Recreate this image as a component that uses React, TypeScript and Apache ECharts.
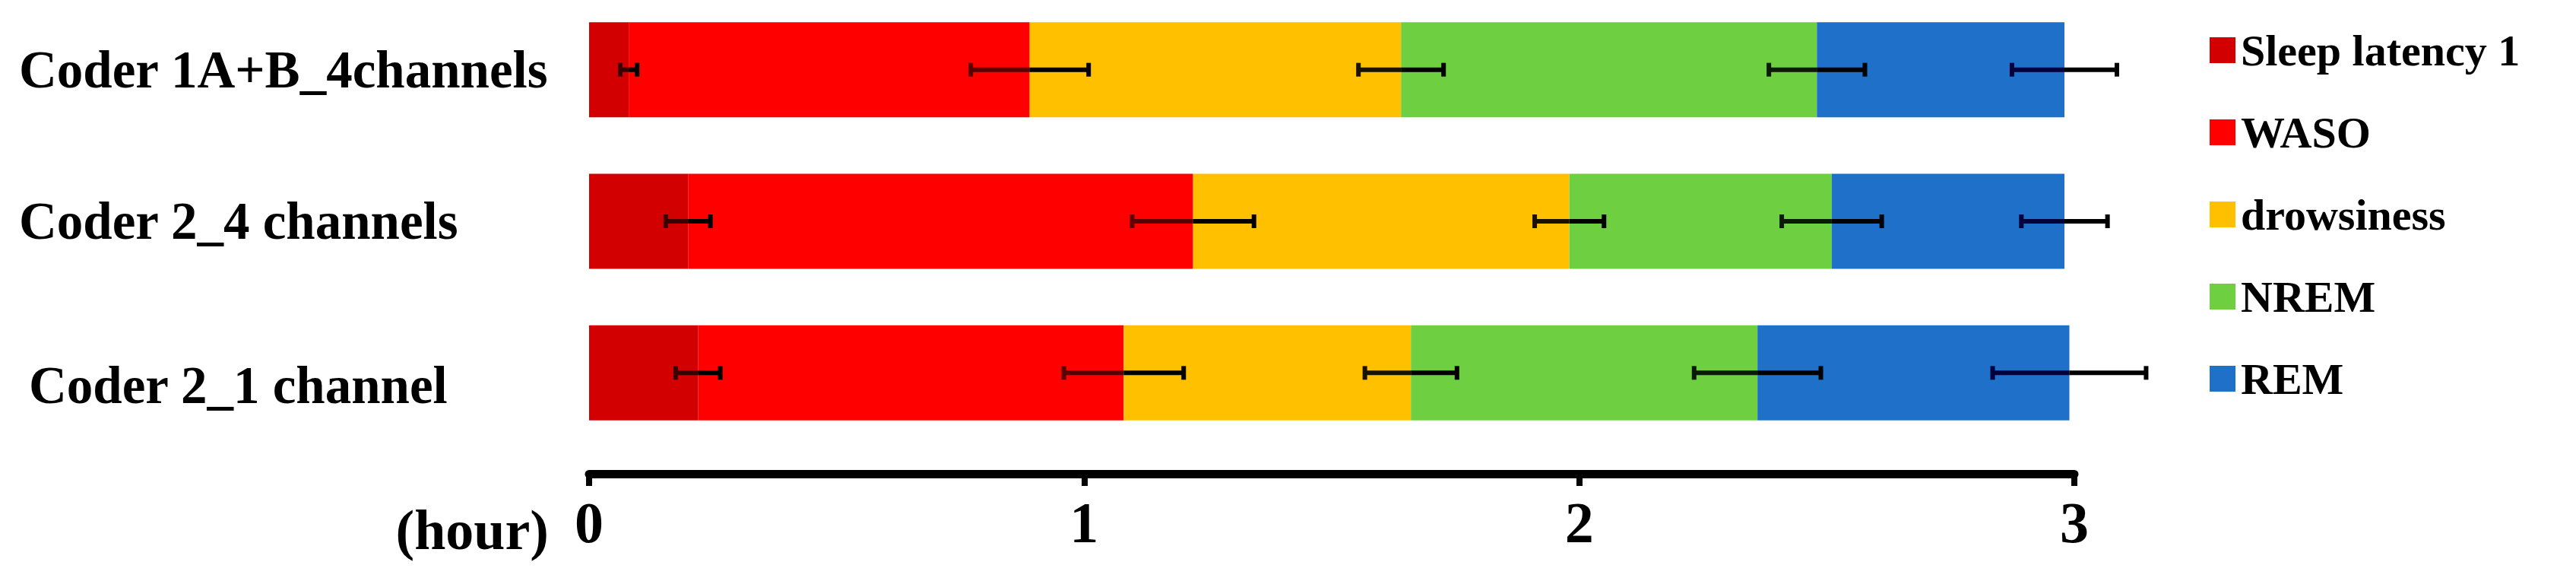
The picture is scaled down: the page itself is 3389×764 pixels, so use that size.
import React, { useEffect, useRef } from "react";
import * as echarts from "echarts";

const categories = ["Coder 1A+B_4channels", "Coder 2_4 channels", "Coder 2_1 channel"];
const stageNames = ["Sleep latency 1", "WASO", "drowsiness", "NREM", "REM"];
const stageColors = ["#d20000", "#ff0000", "#ffc000", "#6ed040", "#1e70c8"];
const errTints = ["#3a0000", "#5a0000", "#1a1200", "#0a1a05", "#00003c"];

// hours per stage, one value per category (top to bottom)
const sleepLatency = [0.08, 0.2, 0.22];
const waso = [0.81, 1.02, 0.86];
const drowsiness = [0.75, 0.76, 0.58];
const nrem = [0.84, 0.53, 0.7];
const rem = [0.5, 0.47, 0.63];

// error (SD, hours) per stage
const sleepLatencyErr = [0.017, 0.045, 0.045];
const wasoErr = [0.119, 0.123, 0.121];
const drowsinessErr = [0.086, 0.07, 0.093];
const nremErr = [0.097, 0.101, 0.128];
const remErr = [0.106, 0.087, 0.155];

const xTicks = [0, 1, 2, 3];

export default function App() {
  const ref = useRef<HTMLDivElement>(null);
  useEffect(() => {
    if (!ref.current) return;
    const chart = echarts.init(ref.current, null, { renderer: "svg" });
    const values = [sleepLatency, waso, drowsiness, nrem, rem];
    const errs = [sleepLatencyErr, wasoErr, drowsinessErr, nremErr, remErr];
    const errData: number[][] = [];
    categories.forEach((_, ci) => {
      let cum = 0;
      values.forEach((arr, si) => {
        cum += arr[ci];
        errData.push([ci, cum, errs[si][ci], si]);
      });
    });
    const font = "'Liberation Serif', 'Times New Roman', serif";
    const tokenBase = { fontFamily: font, fontWeight: "bold", fontSize: 69, color: "#000" };
    const barSeries = values.map((arr, si) => ({
      name: stageNames[si],
      type: "bar",
      stack: "total",
      barWidth: 125,
      data: arr,
      itemStyle: { color: stageColors[si] },
      z: 2,
    }));
    chart.setOption({
      animation: false,
      backgroundColor: "#ffffff",
      color: stageColors,
      grid: { left: 775, right: 660, top: -8, height: 598, outerBoundsMode: "none", containLabel: false },
      legend: {
        orient: "vertical",
        left: 2902,
        top: 32,
        itemWidth: 34,
        itemHeight: 34,
        itemGap: 50,
        icon: "rect",
        data: stageNames,
        textStyle: {
          fontFamily: font,
          fontWeight: "bold",
          fontSize: 58,
          color: "#000",
          lineHeight: 34,
          padding: [0, 0, 0, 2],
        },
      },
      xAxis: {
        type: "value",
        min: xTicks[0],
        max: xTicks[xTicks.length - 1],
        interval: 1,
        offset: 33,
        splitLine: { show: false },
        axisLine: { show: true, lineStyle: { color: "#000", width: 11 } },
        axisTick: { show: true, length: 16, lineStyle: { color: "#000", width: 8 } },
        axisLabel: {
          margin: 26,
          fontFamily: font,
          fontWeight: "bold",
          fontSize: 76,
          color: "#000",
        },
      },
      yAxis: {
        type: "category",
        inverse: true,
        data: categories,
        axisLine: { show: false },
        axisTick: { show: false },
        axisLabel: {
          align: "left",
          margin: 750,
          fontFamily: font,
          fontWeight: "bold",
          fontSize: 69,
          color: "#000",
          formatter: (v: string, i: number) => (i === 2 ? `{c|${v}}` : `{a|${v}}`),
          rich: {
            a: { ...tokenBase },
            c: { ...tokenBase, lineHeight: 103, verticalAlign: "bottom", padding: [0, 0, 0, 13] },
          },
        },
      },
      graphic: [
        {
          type: "text",
          right: 3389 - 722,
          top: 660,
          style: {
            text: "(hour)",
            font: `bold 74px ${font}`,
            fill: "#000",
          },
        },
      ],
      series: [
        ...barSeries,
        {
          type: "custom",
          name: "err",
          data: errData,
          encode: { x: 1, y: 0 },
          z: 5,
          renderItem: (params: any, api: any) => {
            const cat = api.value(0);
            const c = api.value(1);
            const sd = api.value(2);
            const si = api.value(3);
            const lo = api.coord([c - sd, cat]);
            const mid = api.coord([c, cat]);
            const hi = api.coord([c + sd, cat]);
            const y = mid[1];
            const cap = 9;
            const tint = errTints[si];
            return {
              type: "group",
              children: [
                { type: "line", shape: { x1: lo[0], y1: y, x2: mid[0], y2: y }, style: { stroke: tint, lineWidth: 6 } },
                { type: "line", shape: { x1: mid[0], y1: y, x2: hi[0], y2: y }, style: { stroke: "#000", lineWidth: 6 } },
                { type: "line", shape: { x1: lo[0], y1: y - cap, x2: lo[0], y2: y + cap }, style: { stroke: tint, lineWidth: 6 } },
                { type: "line", shape: { x1: hi[0], y1: y - cap, x2: hi[0], y2: y + cap }, style: { stroke: "#000", lineWidth: 6 } },
              ],
            };
          },
        },
      ],
    });
    return () => chart.dispose();
  }, []);
  return (
    <div
      ref={ref}
      style={{ position: "fixed", left: 0, top: 0, width: 3389, height: 764 }}
    />
  );
}
